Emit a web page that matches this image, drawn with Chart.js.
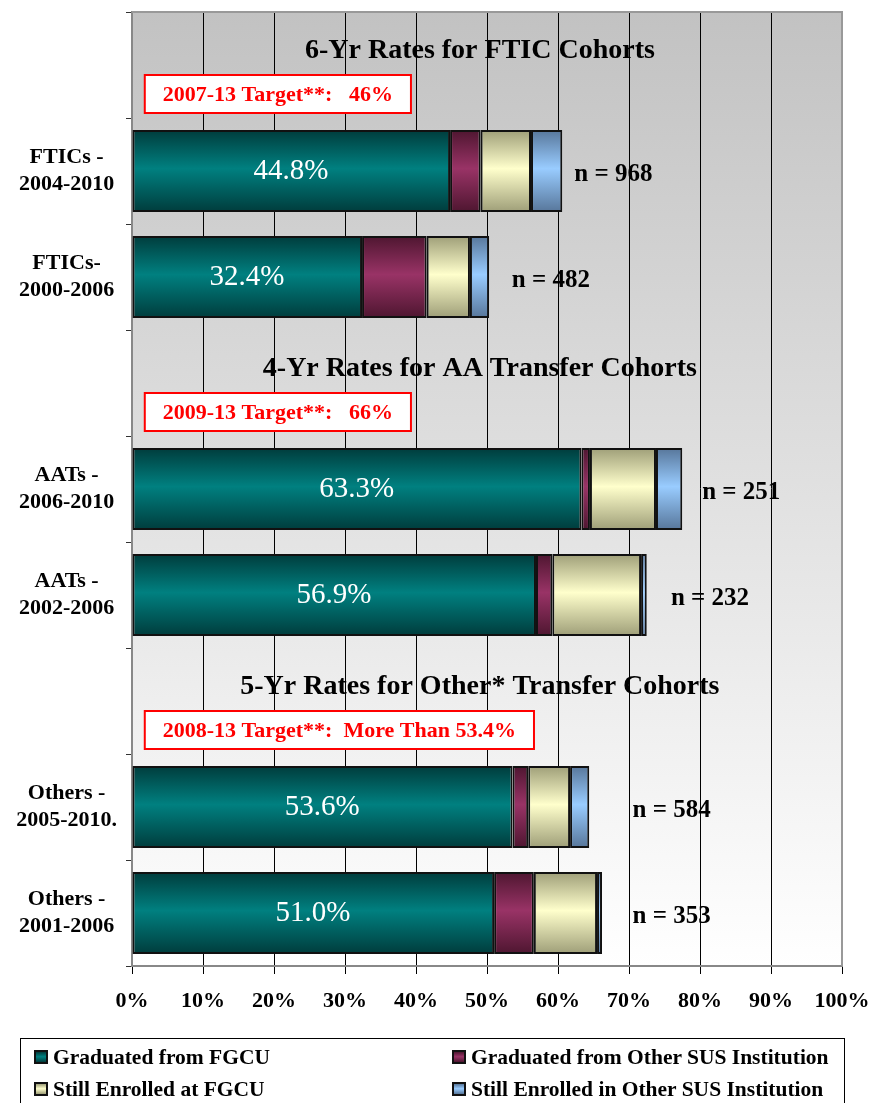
<!DOCTYPE html>
<html>
<head>
<meta charset="utf-8">
<script src="https://cdn.jsdelivr.net/npm/chart.js@4"></script>
<style>
  body { margin: 0; background: #fff; }
  #wrap { position: relative; width: 871px; height: 1103px; overflow: hidden; }
  #legend { position: absolute; left: 20px; top: 1038px; width: 825px; height: 80px;
    border: 1px solid #000; box-sizing: border-box; font: bold 21.5px "Liberation Serif", serif; }
  .item { position: absolute; display: flex; align-items: center; white-space: nowrap; height: 24px; }
  .sw { width: 10px; height: 10px; border: 2px solid #111; margin-right: 5px; }
</style>
</head>
<body>
<div id="wrap">
  <canvas id="chart" width="871" height="1103"></canvas>
  <div id="legend"></div>
</div>
<script>
// rows: section title rows have empty labels and no bars
const categories = ['', ['FTICs -', '2004-2010'], ['FTICs-', '2000-2006'],
                    '', ['AATs -', '2006-2010'], ['AATs -', '2002-2006'],
                    '', ['Others -', '2005-2010.'], ['Others -', '2001-2006']];
const gradFGCU      = [null, 44.8, 32.4, null, 63.3, 56.9, null, 53.6, 51.0];
const gradOtherSUS  = [null, 4.3, 9.1, null, 1.2, 2.3, null, 2.2, 5.6];
const enrolledFGCU  = [null, 7.1, 6.1, null, 9.3, 12.5, null, 5.9, 8.9];
const enrolledOther = [null, 4.4, 2.7, null, 3.7, 0.8, null, 2.7, 0.7];
const cohortN       = [null, 968, 482, null, 251, 232, null, 584, 353];
const xTicks = [0, 10, 20, 30, 40, 50, 60, 70, 80, 90, 100];

const sectionRows = [0, 3, 6];
const sectionTitles = ['6-Yr Rates for FTIC Cohorts', '4-Yr Rates for AA Transfer Cohorts',
                       '5-Yr Rates for Other* Transfer Cohorts'];
const targets = ['2007-13 Target**:   46%', '2009-13 Target**:   66%',
                 '2008-13 Target**:  More Than 53.4%'];

// where the "n = " labels start, in axis percent
const nLabelAt = [null, 62.3, 53.5, null, 80.3, 75.9, null, 70.5, 70.5];

const serif = '"Liberation Serif", serif';
const barPct = 0.774;

// edge / middle colours for the shiny bars
const looks = [
  { label: 'Graduated from FGCU', edge: '#003c3c', mid: '#008080' },
  { label: 'Graduated from Other SUS Institution', edge: '#4e1630', mid: '#993366' },
  { label: 'Still Enrolled at FGCU', edge: '#9e9e78', mid: '#ffffcc' },
  { label: 'Still Enrolled in Other SUS Institution', edge: '#57769a', mid: '#99ccff' }
];
const series = [gradFGCU, gradOtherSUS, enrolledFGCU, enrolledOther];

function barFill(edge, mid) {
  return function(ctx) {
    const chart = ctx.chart;
    const area = chart.chartArea;
    if (!area || ctx.type !== 'data' || !chart.scales.y) return mid;
    const y = chart.scales.y.getPixelForValue(ctx.dataIndex);
    const h = area.height / categories.length * barPct;
    const g = chart.ctx.createLinearGradient(0, y - h / 2, 0, y + h / 2);
    g.addColorStop(0, edge);
    g.addColorStop(0.47, mid);
    g.addColorStop(1, edge);
    return g;
  };
}

const plotBack = {
  id: 'plotBack',
  beforeDraw(chart) {
    const { ctx, chartArea: a } = chart;
    const g = ctx.createLinearGradient(0, a.top, 0, a.bottom);
    g.addColorStop(0, '#c2c2c2');
    g.addColorStop(1, '#ffffff');
    ctx.save();
    ctx.fillStyle = g;
    ctx.fillRect(a.left, a.top, a.right - a.left, a.bottom - a.top);
    ctx.restore();
  }
};

const notes = {
  id: 'notes',
  afterDatasetsDraw(chart) {
    const { ctx, chartArea: a } = chart;
    const x = chart.scales.x, y = chart.scales.y;
    ctx.save();
    // frame top + right
    ctx.strokeStyle = '#999';
    ctx.lineWidth = 2;
    ctx.beginPath();
    ctx.moveTo(a.left, a.top);
    ctx.lineTo(a.right, a.top);
    ctx.lineTo(a.right, a.bottom);
    ctx.stroke();

    ctx.textBaseline = 'middle';
    // percentages inside the teal part + n labels
    gradFGCU.forEach((v, i) => {
      if (v === null) return;
      const yc = y.getPixelForValue(i);
      ctx.fillStyle = '#fff';
      ctx.textAlign = 'center';
      ctx.font = '29px ' + serif;
      ctx.fillText(v.toFixed(1) + '%', (x.getPixelForValue(0) + x.getPixelForValue(v)) / 2, yc);
      ctx.fillStyle = '#000';
      ctx.textAlign = 'left';
      ctx.font = 'bold 25px ' + serif;
      ctx.fillText('n = ' + cohortN[i], x.getPixelForValue(nLabelAt[i]), yc + 4);
    });

    // section titles and target boxes
    sectionRows.forEach((r, k) => {
      const yc = y.getPixelForValue(r);
      ctx.fillStyle = '#000';
      ctx.textAlign = 'center';
      ctx.font = 'bold 28px ' + serif;
      ctx.fillText(sectionTitles[k], x.getPixelForValue(49), yc - 14);

      ctx.font = 'bold 22px ' + serif;
      const w = ctx.measureText(targets[k]).width + 36;
      const bx = x.getPixelForValue(1.8);
      ctx.fillStyle = '#fff';
      ctx.fillRect(bx, yc + 10, w, 38);
      ctx.strokeStyle = '#ff0000';
      ctx.lineWidth = 2;
      ctx.strokeRect(bx, yc + 10, w, 38);
      ctx.fillStyle = '#ff0000';
      ctx.textAlign = 'left';
      ctx.fillText(targets[k], bx + 18, yc + 30);
    });
    ctx.restore();
  }
};

new Chart(document.getElementById('chart'), {
  type: 'bar',
  data: {
    labels: categories,
    datasets: series.map((d, i) => ({
      label: looks[i].label,
      data: d,
      backgroundColor: barFill(looks[i].edge, looks[i].mid),
      borderColor: '#111',
      borderWidth: 2,
      borderSkipped: false,
      barPercentage: barPct,
      categoryPercentage: 1
    }))
  },
  options: {
    indexAxis: 'y',
    responsive: false,
    animation: false,
    devicePixelRatio: 1,
    layout: { padding: { top: 12, right: 29, bottom: 73, left: 0 } },
    plugins: { legend: { display: false }, tooltip: { enabled: false } },
    scales: {
      x: {
        stacked: true,
        min: 0, max: 100,
        afterBuildTicks: s => { s.ticks = xTicks.map(v => ({ value: v })); },
        afterFit: s => { s.height = 64; s.paddingLeft = 0; s.paddingRight = 0; },
        ticks: { callback: v => v + '%', color: '#000', padding: 14,
                 font: { family: serif, size: 22, weight: 'bold' } },
        grid: {
          color: c => (c.index === 0 || c.index === 10) ? '#999' : '#000',
          tickColor: '#000',
          tickLength: 8,
          lineWidth: 1
        },
        border: { color: '#888', width: 2 }
      },
      y: {
        stacked: true,
        afterFit: s => { s.width = 132; s.paddingTop = 0; s.paddingBottom = 0; },
        ticks: { color: '#000', crossAlign: 'center', padding: 9,
                 font: { family: serif, size: 22, weight: 'bold', lineHeight: 1.2 } },
        grid: { offset: true, drawOnChartArea: false, tickLength: 6, tickColor: '#333' },
        border: { color: '#888', width: 2 }
      }
    }
  },
  plugins: [plotBack, notes]
});

// legend box below the chart
const legend = document.getElementById('legend');
const spots = [[13, 6], [431, 6], [13, 38], [431, 38]];
looks.forEach((lk, k) => {
  const it = document.createElement('div');
  it.className = 'item';
  it.style.left = spots[k][0] + 'px';
  it.style.top = spots[k][1] + 'px';
  const sw = document.createElement('span');
  sw.className = 'sw';
  sw.style.background = 'linear-gradient(' + lk.edge + ',' + lk.mid + ' 47%,' + lk.edge + ')';
  const tx = document.createElement('span');
  tx.textContent = lk.label;
  it.appendChild(sw);
  it.appendChild(tx);
  legend.appendChild(it);
});
</script>
</body>
</html>
